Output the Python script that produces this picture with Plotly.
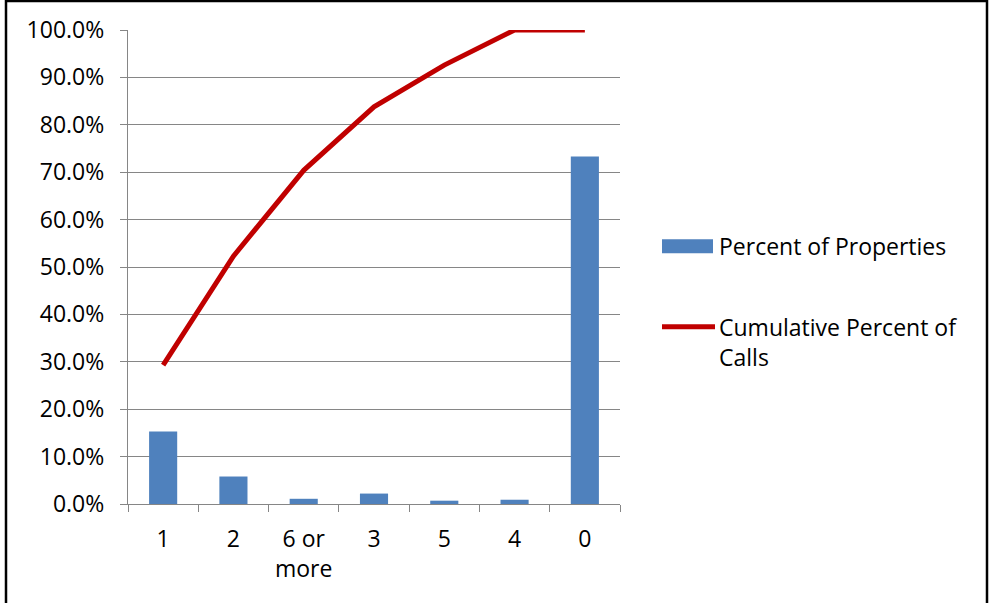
import plotly.graph_objects as go

# Number of calls per property, ordered by cumulative share of calls
categories = ["1", "2", "6 or<br>more", "3", "5", "4", "0"]
percent_of_properties = [0.153, 0.058, 0.011, 0.022, 0.007, 0.009, 0.733]
cumulative_percent_of_calls = [0.293, 0.523, 0.704, 0.838, 0.926, 1.000, 1.000]
y_ticks = [i / 10 for i in range(11)]

bar_name = "Percent of Properties"
line_name = "Cumulative Percent of<br>Calls"

BAR_COLOR = "#4F81BD"
LINE_COLOR = "#C00000"
GRID_COLOR = "#868686"
FONT = "Open Sans"
FONT_SIZE = 23

W, H = 989, 603
ML, MR, MT, MB = 128, 369, 30, 98.5
PW, PH = W - ML - MR, H - MT - MB


def px_x(px):
    return (px - ML) / PW


def px_y(py):
    return (H - MB - py) / PH


fig = go.Figure()
fig.add_trace(go.Bar(
    x=categories, y=percent_of_properties, name=bar_name,
    marker=dict(color=BAR_COLOR, line=dict(width=0)), width=0.4,
    showlegend=False,
))
fig.add_trace(go.Scatter(
    x=categories, y=cumulative_percent_of_calls, name=line_name,
    mode="lines", line=dict(color=LINE_COLOR, width=5),
    showlegend=False,
))

# Legend drawn beside the plot area
shapes = [
    dict(type="rect", xref="paper", yref="paper",
         x0=px_x(662), x1=px_x(713), y0=px_y(253.5), y1=px_y(239.5),
         fillcolor=BAR_COLOR, line=dict(width=0)),
    dict(type="line", xref="paper", yref="paper",
         x0=px_x(662), x1=px_x(715), y0=px_y(327), y1=px_y(327),
         line=dict(color=LINE_COLOR, width=5)),
    # outer frame
    dict(type="rect", xref="paper", yref="paper",
         x0=px_x(6), x1=px_x(987), y0=px_y(608), y1=px_y(1),
         line=dict(color="black", width=2.5), fillcolor="rgba(0,0,0,0)"),
]
annotations = [
    dict(text=bar_name, xref="paper", yref="paper", x=px_x(717), y=px_y(246),
         xanchor="left", yanchor="middle", showarrow=False, align="left",
         font=dict(family=FONT, size=FONT_SIZE, color="black")),
    dict(text=line_name, xref="paper", yref="paper", x=px_x(717), y=px_y(342),
         xanchor="left", yanchor="middle", showarrow=False, align="left",
         font=dict(family=FONT, size=FONT_SIZE, color="black")),
]

fig.update_layout(
    width=W, height=H,
    margin=dict(l=ML, r=MR, t=MT, b=MB, pad=0),
    paper_bgcolor="white", plot_bgcolor="white",
    font=dict(family=FONT, size=FONT_SIZE, color="black"),
    shapes=shapes, annotations=annotations,
    bargap=0.6,
)
fig.update_xaxes(
    type="category", range=[-0.5, len(categories) - 0.5],
    showline=True, linecolor=GRID_COLOR, linewidth=1.3,
    ticks="outside", tickson="boundaries", ticklen=7, tickcolor=GRID_COLOR,
    tickwidth=1.3, showgrid=False, ticklabelstandoff=14,
)
fig.update_yaxes(
    range=[0, 1], tickvals=y_ticks, tickformat=".1%",
    showline=True, linecolor=GRID_COLOR, linewidth=1.3,
    ticks="outside", ticklen=7, tickcolor=GRID_COLOR, tickwidth=1.3,
    showgrid=True, gridcolor=GRID_COLOR, gridwidth=1.3,
    zeroline=False, ticklabelstandoff=11,
)

fig.write_html("out.html")
